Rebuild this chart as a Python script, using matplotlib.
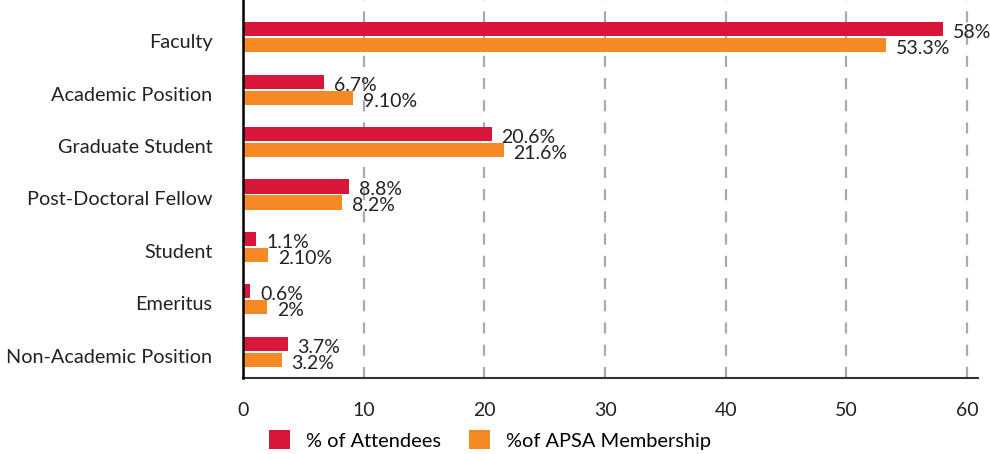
import numpy as np
import matplotlib.pyplot as plt
import matplotlib.transforms as mtransforms
from matplotlib.patches import Patch

plt.rcParams['font.family'] = ['Lato', 'DejaVu Sans']

categories = ['Faculty', 'Academic Position', 'Graduate Student', 'Post-Doctoral Fellow',
              'Student', 'Emeritus', 'Non-Academic Position']
attendees = [58, 6.7, 20.6, 8.8, 1.1, 0.6, 3.7]
membership = [53.3, 9.10, 21.6, 8.2, 2.10, 2, 3.2]
attendee_labels = ['58%', '6.7%', '20.6%', '8.8%', '1.1%', '0.6%', '3.7%']
membership_labels = ['53.3%', '9.10%', '21.6%', '8.2%', '2.10%', '2%', '3.2%']

red = '#d7163a'
orange = '#f58923'

fig = plt.figure(figsize=(9.9, 4.54), dpi=100)
ax = fig.add_axes([243 / 990, 1 - 378 / 454, (978 - 243) / 990, 378 / 454])

y = np.arange(len(categories))
h = 0.27
ax.barh(y - 0.152, attendees, height=h, color=red, zorder=3)
ax.barh(y + 0.152, membership, height=h, color=orange, zorder=3)

for yi, v, lab in zip(y, attendees, attendee_labels):
    ax.annotate(lab, (v, yi - 0.152), xytext=(7, -2.5), textcoords='offset points',
                ha='left', va='center', fontsize=14, color='#222222', zorder=4)
for yi, v, lab in zip(y, membership, membership_labels):
    ax.annotate(lab, (v, yi + 0.152), xytext=(7, -2.5), textcoords='offset points',
                ha='left', va='center', fontsize=14, color='#222222', zorder=4)

ax.set_xlim(0, 735 / 12.067)
ax.set_ylim(6.5, -0.5 - 11 / 52.5)
ax.set_yticks(y)
ax.set_yticklabels(categories, fontsize=14.3, color='#222222')
ax.set_xticks([0, 10, 20, 30, 40, 50, 60])
ax.tick_params(axis='x', labelsize=14, colors='#222222', length=0, pad=17)
ax.tick_params(axis='y', length=0, pad=22)

shift = mtransforms.ScaledTranslation(0, -4 / 100, fig.dpi_scale_trans)
for lbl in ax.get_yticklabels():
    lbl.set_transform(lbl.get_transform() + shift)

ax.grid(axis='x', linestyle=(0, (5, 5)), color='#aaaaaa', linewidth=1.6, zorder=0)
for s in ['top', 'right']:
    ax.spines[s].set_visible(False)
ax.spines['left'].set_color('black')
ax.spines['left'].set_linewidth(1.8)
ax.spines['left'].set_zorder(5)
ax.spines['bottom'].set_color('#333333')
ax.spines['bottom'].set_linewidth(1.5)

handles = [Patch(facecolor=red, label='% of Attendees'),
           Patch(facecolor=orange, label='%of APSA Membership')]
fig.legend(handles=handles, loc='center', bbox_to_anchor=(490.5 / 990, 1 - 440 / 454),
           ncol=2, frameon=False, fontsize=14.4, handlelength=1.05, handleheight=1.05,
           columnspacing=1.4, handletextpad=0.8)

fig.savefig('out.png', dpi=100)
